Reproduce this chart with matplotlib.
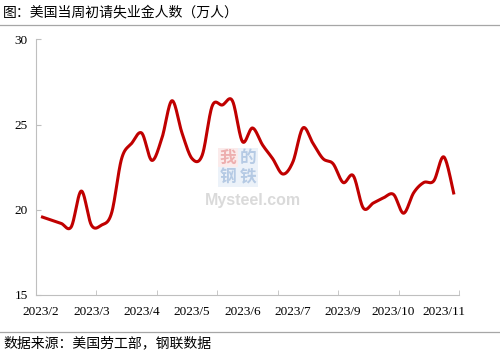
import numpy as np
import matplotlib.pyplot as plt
from matplotlib.lines import Line2D

# weekly initial jobless claims, 10k persons (2023-02-04 .. 2023-11-18)
claims = [19.6, 19.4, 19.2, 19.0, 21.1, 19.1, 19.1, 19.8, 23.0, 23.9,
          24.5, 22.9, 24.2, 26.4, 24.5, 23.0, 23.2, 26.1, 26.15, 26.4,
          24.0, 24.8, 23.8, 23.0, 22.1, 22.8, 24.8, 23.9, 23.0, 22.7,
          21.6, 22.0, 20.1, 20.4, 20.7, 20.9, 19.8, 21.0, 21.6, 21.7,
          23.1, 20.9]
label_idx = [0, 5, 10, 15, 20, 25, 30, 35, 40]
month_labels = ["2023/2", "2023/3", "2023/4", "2023/5", "2023/6",
                "2023/7", "2023/9", "2023/10", "2023/11"]
y_ticks = [15, 20, 25, 30]

title = "图：美国当周初请失业金人数（万人）"
source = "数据来源：美国劳工部，钢联数据"

cjk = ["Noto Sans CJK SC", "DejaVu Sans"]
serif = "Liberation Serif"


def smooth(y, n=24):
    # excel-style smoothed line (cubic bezier, catmull-rom control points)
    y = np.asarray(y, dtype=float)
    x = np.arange(len(y), dtype=float)
    p = np.column_stack([x, y])
    p = np.vstack([p[0], p, p[-1]])
    t = np.linspace(0, 1, n)[:, None]
    out = []
    for i in range(1, len(p) - 2):
        p0, p1, p2, p3 = p[i - 1], p[i], p[i + 1], p[i + 2]
        c1 = p1 + (p2 - p0) / 6
        c2 = p2 - (p3 - p1) / 6
        seg = ((1 - t) ** 3) * p1 + 3 * ((1 - t) ** 2) * t * c1 \
            + 3 * (1 - t) * t ** 2 * c2 + t ** 3 * p2
        out.append(seg if i == 1 else seg[1:])
    seg = np.vstack(out)
    return seg[:, 0], seg[:, 1]


fig = plt.figure(figsize=(5.0, 3.58), dpi=100)

# watermark (behind the chart)
marks = [("我", 0.456, 0.559, "#EDAFAF", "#FBEBEB"),
         ("的", 0.496, 0.559, "#B5CAE4", "#ECF2F9"),
         ("钢", 0.456, 0.506, "#B5CAE4", "#ECF2F9"),
         ("铁", 0.496, 0.506, "#B5CAE4", "#ECF2F9")]
for ch, x, y, fg, bg in marks:
    fig.text(x, y, ch, family=cjk, fontsize=12, color=fg, ha="center",
             va="center", weight="bold", zorder=0,
             bbox=dict(boxstyle="square,pad=0.08", fc=bg, ec="none"))
fig.text(0.41, 0.441, "Mysteel.com", family="Liberation Sans", fontsize=11.5,
         color="#DADADA", weight="bold", ha="left", va="center", zorder=0)

ax = fig.add_axes([0.072, 0.176, 0.846, 0.714], zorder=2)
ax.patch.set_alpha(0)

sx, sy = smooth(claims)
ax.plot(sx, sy, color="#C00000", lw=2.2, solid_capstyle="butt", zorder=3)

n = len(claims)
ax.set_xlim(-0.5, n - 0.5)
ax.set_ylim(15, 30)

ax.set_xticks(label_idx)
ax.set_xticklabels(month_labels, fontfamily=serif, fontsize=9.5)
ax.set_xticks(np.arange(-0.5, n, 6), minor=True)
ax.tick_params(axis="x", which="major", length=0, pad=8, colors="#000000")
ax.tick_params(axis="x", which="minor", direction="in", length=3.5,
               color="#BFBFBF")

ax.set_yticks(y_ticks)
ax.set_yticklabels([str(v) for v in y_ticks], fontfamily=serif, fontsize=9.5)
ax.tick_params(axis="y", direction="in", length=3.5, color="#BFBFBF", pad=6)

for side in ["top", "right"]:
    ax.spines[side].set_visible(False)
for side in ["left", "bottom"]:
    ax.spines[side].set_color("#BFBFBF")
    ax.spines[side].set_linewidth(0.8)

fig.text(0.006, 0.965, title, family=cjk, fontsize=10, va="center",
         ha="left", color="#000000")
fig.text(0.006, 0.042, source, family=cjk, fontsize=10, va="center",
         ha="left", color="#000000")

fig.add_artist(Line2D([0, 1], [0.930, 0.930], transform=fig.transFigure,
                      color="#A6A6A6", lw=0.9))
fig.add_artist(Line2D([0, 1], [0.073, 0.073], transform=fig.transFigure,
                      color="#A6A6A6", lw=0.9))

fig.savefig("out.png", dpi=100)
